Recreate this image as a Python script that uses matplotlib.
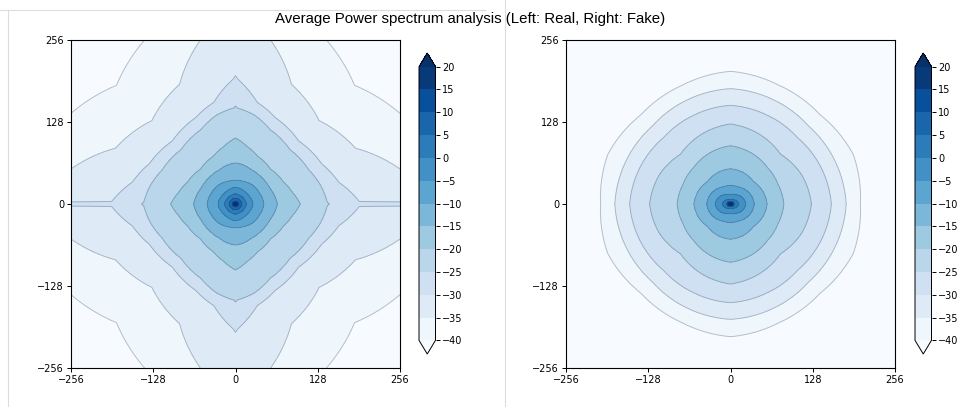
import numpy as np
import matplotlib
matplotlib.use("Agg")
import matplotlib.pyplot as plt
from matplotlib.lines import Line2D

# ---------------- data ----------------
title = "Average Power spectrum analysis (Left: Real, Right: Fake)"
levels = list(range(-40, 25, 5))                       # colour/contour levels
levels_desc = [20, 15, 10, 5, 0, -5, -10, -15, -20, -25, -30, -35, -40]
tick_vals = [-256, -128, 0, 128, 256]

# Real spectrum: radius of each contour level vs. angle (deg from the x axis)
real_angles = [0, 1, 12, 25, 45, 65, 78, 89, 90]
real_radii = [
    [1.6, 1.6, 1.6, 1.5, 1.5, 1.5, 1.5, 1.6, 1.6],      # 20
    [2.8, 2.8, 2.8, 2.7, 2.6, 2.7, 2.7, 2.7, 2.7],      # 15
    [4.5, 4.5, 4.4, 4.2, 4.1, 4.1, 4.1, 4.2, 4.2],      # 10
    [10, 10, 9.8, 9.3, 9, 9, 9, 9.2, 9.2],              # 5
    [17, 17, 16.5, 15.5, 15, 15, 15.5, 15.8, 15.8],     # 0
    [27, 27, 26.5, 25, 24, 24.5, 25.5, 26, 26],         # -5
    [44, 44, 43, 41, 40, 38, 37, 37, 37],               # -10
    [65, 65, 62, 59, 58, 59, 62, 64, 64],               # -15
    [101, 100, 90, 82, 77, 82, 91, 102, 103],           # -20
    [146, 143, 136, 126, 120, 128, 142, 150, 153],      # -25
    [420, 193, 164, 148, 139, 148, 162, 195, 200],      # -30
    [600, 590, 262, 206, 184, 206, 262, 590, 600],      # -35
    [900, 880, 500, 300, 262, 300, 500, 880, 900],      # -40
]

# Fake spectrum
fake_angles = [0, 22, 45, 68, 90]
fake_radii = [
    [1.5, 1.4, 1.3, 1.2, 1.1],      # 20
    [2.6, 2.4, 2.2, 2.0, 1.9],      # 15
    [4.0, 3.7, 3.4, 3.0, 2.8],      # 10
    [6.0, 5.5, 5.0, 4.3, 4.0],      # 5
    [13, 11, 9, 7.5, 7],            # 0
    [24, 22, 19, 16, 15],           # -5
    [37, 35, 32, 29, 29],           # -10
    [57, 54, 50, 53, 55],           # -15
    [83, 80, 81, 86, 91],           # -20
    [126, 120, 110, 118, 125],      # -25
    [157, 152, 147, 150, 154],      # -30
    [180, 176, 172, 176, 180],      # -35
    [202, 206, 197, 200, 207],      # -40
]


def build_field(angles, radii, n=513):
    ax_ = np.linspace(-256, 256, n)
    X, Y = np.meshgrid(ax_, ax_)
    r = np.maximum(np.hypot(X, Y), 0.25)
    th = np.degrees(np.arctan2(np.abs(Y), np.abs(X)))
    R = np.stack([np.interp(th, angles, row) for row in radii])
    s = np.log(r[None] / R)
    K = len(levels_desc)
    Ld = np.array(levels_desc, float)
    j = (s > 0).sum(axis=0)
    jp = np.clip(j - 1, 0, K - 1)
    jn = np.clip(j, 0, K - 1)
    sp = np.take_along_axis(s, jp[None], 0)[0]
    sn = np.take_along_axis(s, jn[None], 0)[0]
    with np.errstate(divide="ignore", invalid="ignore"):
        frac = np.where(sp - sn != 0, sp / (sp - sn), 0.0)
    Z = Ld[jp] + (Ld[jn] - Ld[jp]) * frac
    Z = np.where(j == 0, Ld[0] + np.minimum(-s[0] * 4, 5), Z)
    Z = np.where(j == K, Ld[-1] - np.minimum(s[-1] * 20, 5), Z)
    return X, Y, Z


fig = plt.figure(figsize=(9.63, 4.07), dpi=100)
W, H = 963.0, 407.0

panels = [
    (real_angles, real_radii, 71, 419),
    (fake_angles, fake_radii, 566, 915),
]
for angles, radii, axx, cbx in panels:
    X, Y, Z = build_field(angles, radii)
    ax = fig.add_axes([axx / W, (H - 368) / H, 329 / W, 328 / H])
    cf = ax.contourf(X, Y, Z, levels=levels, cmap="Blues", extend="both")
    ax.contour(X, Y, Z, levels=levels, colors="#1f2f4a", linewidths=0.7,
               alpha=0.28, linestyles="solid")
    ax.set_xlim(-256, 256)
    ax.set_ylim(-256, 256)
    ax.set_xticks(tick_vals)
    ax.set_yticks(tick_vals)
    ax.tick_params(labelsize=7, length=3, width=0.7, pad=2)
    for sp in ax.spines.values():
        sp.set_linewidth(0.8)
    cax = fig.add_axes([cbx / W, (H - 354) / H, 16.5 / W, 301 / H])
    cb = fig.colorbar(cf, cax=cax, ticks=levels)
    cb.ax.tick_params(labelsize=7, length=3, width=0.7, pad=2)
    cb.outline.set_linewidth(0.7)

fig.text(470 / W, 1 - 23.3 / H, title, ha="center", va="baseline",
         fontsize=10.8, family=["Liberation Sans", "DejaVu Sans"])

# faint borders of the two source panels
lc = "#dcdcdc"
fig.add_artist(Line2D([0, 485 / W], [1 - 10 / H] * 2, color=lc, lw=0.8, transform=fig.transFigure))
fig.add_artist(Line2D([8 / W] * 2, [0, 1 - 10 / H], color=lc, lw=0.8, transform=fig.transFigure))
fig.add_artist(Line2D([505 / W] * 2, [0, 1], color=lc, lw=0.8, transform=fig.transFigure))

fig.savefig("out.png", dpi=100)
